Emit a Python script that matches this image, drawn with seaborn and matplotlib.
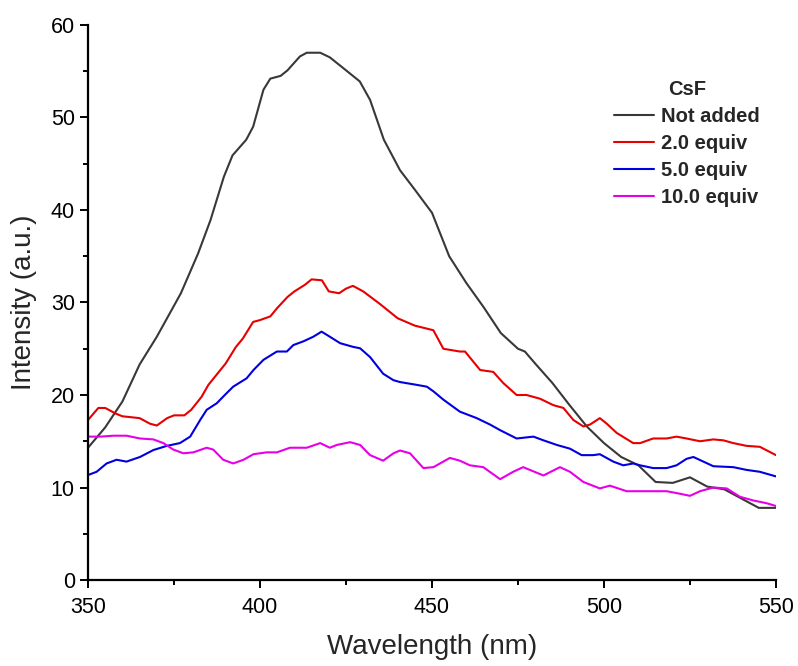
import numpy as np
import matplotlib
matplotlib.use('Agg')
import matplotlib.pyplot as plt
import pandas as pd
import seaborn as sns
from matplotlib.ticker import MultipleLocator

# series
series_names = ['Not added', '2.0 equiv', '5.0 equiv', '10.0 equiv']
series_colors = ['#383838', '#e60000', '#0000e0', '#e600e6']

wl_not_added = [350, 355, 360, 365, 370, 377, 382, 385.6, 389.5, 392, 396, 398, 401, 403, 406, 408,
                411.6, 413.6, 417.5, 420.3, 425, 429, 432, 436, 440.7, 445, 450, 455, 460, 465, 470,
                475, 477, 480, 485, 490, 495, 500, 505, 510, 515, 520, 525, 530, 535, 540, 545, 550]
int_not_added = [14.3, 16.5, 19.3, 23.3, 26.3, 31.0, 35.3, 38.9, 43.6, 45.9, 47.6, 49.0, 53.0, 54.2, 54.5, 55.1,
                 56.6, 57.0, 57.0, 56.5, 55.1, 53.9, 51.9, 47.6, 44.3, 42.2, 39.7, 35.0, 32.1, 29.5, 26.7,
                 25.0, 24.7, 23.4, 21.3, 18.9, 16.6, 14.8, 13.3, 12.4, 10.6, 10.5, 11.1, 10.1, 9.8, 8.8, 7.8, 7.8]

wl_2eq = [350, 353, 355, 358, 360, 365, 368, 370, 373, 375, 378, 380, 383, 385, 390, 393, 395, 398,
          400, 403, 405, 408, 410, 413, 415, 418, 420, 423, 425, 427, 430, 435, 440, 445, 450.4,
          453.3, 458.1, 459.6, 464, 467.8, 470.7, 474.6, 477.5, 481.4, 485.3, 488.2, 491.1, 494,
          495.9, 498.8, 500.8, 503.7, 508.5, 510.5, 514.3, 518.2, 521.1, 524, 527.9, 531.8, 534.7,
          537.6, 541.5, 545.3, 550]
int_2eq = [17.3, 18.6, 18.6, 18.0, 17.7, 17.5, 16.9, 16.7, 17.5, 17.8, 17.8, 18.4, 19.8, 21.1, 23.4, 25.2, 26.1, 27.9,
           28.1, 28.5, 29.4, 30.6, 31.2, 31.9, 32.5, 32.4, 31.2, 31.0, 31.5, 31.8, 31.2, 29.8, 28.3, 27.5, 27.0,
           25.0, 24.7, 24.7, 22.7, 22.5, 21.3, 20.0, 20.0, 19.6, 18.9, 18.6, 17.3, 16.6,
           16.8, 17.5, 16.9, 15.9, 14.8, 14.8, 15.3, 15.3, 15.5, 15.3, 15.0, 15.2, 15.1,
           14.8, 14.5, 14.4, 13.5]

wl_5eq = [350, 352.5, 355.4, 358.3, 361.2, 365.1, 369, 372.9, 376.7, 379.7, 382.6, 384.5, 387.4, 390.3,
          392.2, 396.1, 398.1, 401, 404.9, 407.8, 409.7, 412.6, 415.5, 417.9, 420.3, 423.3, 427.1, 429.1,
          432, 435.8, 438.8, 440.7, 445.5, 448.5, 450.4, 453.3, 458.1, 463, 466.9, 469.8, 474.6, 479.5,
          482.4, 486.3, 490.1, 493.5, 496.9, 498.8, 502.7, 505.6, 508.5, 510.5, 514.3, 518.2, 521.1,
          524, 526, 528.9, 531.8, 537.6, 541.5, 545.3, 550]
int_5eq = [11.35, 11.7, 12.6, 13.0, 12.8, 13.3, 14.05, 14.5, 14.8, 15.5, 17.3, 18.4, 19.1, 20.2,
           20.9, 21.8, 22.7, 23.8, 24.7, 24.7, 25.4, 25.8, 26.3, 26.85, 26.3, 25.6, 25.2, 25.05,
           24.1, 22.3, 21.6, 21.4, 21.1, 20.9, 20.4, 19.5, 18.2, 17.5, 16.8, 16.2, 15.3, 15.5,
           15.1, 14.6, 14.2, 13.5, 13.5, 13.6, 12.8, 12.4, 12.6, 12.4, 12.1, 12.1, 12.4,
           13.1, 13.3, 12.8, 12.3, 12.2, 11.9, 11.7, 11.2]

wl_10eq = [350, 353.5, 357.4, 361.2, 365.1, 369, 371.9, 374.8, 377.7, 380.6, 384.5, 386.4, 389.3, 392.2,
           395.2, 398.1, 401.9, 404.9, 408.7, 411.6, 413.6, 417.5, 420.3, 422.3, 426.2, 429.1, 432, 435.8,
           438.8, 440.7, 443.6, 447.5, 450.4, 455.2, 458.1, 461, 464.9, 469.8, 473.6, 476.5, 482.4, 487.2,
           490.1, 494, 498.8, 501.7, 506.6, 512.4, 518.2, 521.1, 525, 527.9, 531.8, 535.7, 539.5, 543.4,
           547.3, 550]
int_10eq = [15.5, 15.5, 15.6, 15.6, 15.3, 15.2, 14.8, 14.1, 13.7, 13.8, 14.3, 14.1, 13.0, 12.6,
            13.0, 13.6, 13.8, 13.8, 14.3, 14.3, 14.3, 14.8, 14.3, 14.6, 14.9, 14.6, 13.5, 12.9,
            13.7, 14.0, 13.7, 12.1, 12.2, 13.2, 12.9, 12.4, 12.2, 10.9, 11.7, 12.2, 11.3, 12.2,
            11.7, 10.6, 9.9, 10.2, 9.6, 9.6, 9.6, 9.4, 9.1, 9.6, 10.0, 9.9, 9.0, 8.6,
            8.3, 8.0]

frames = []
for name, wl, inten in zip(series_names,
                           [wl_not_added, wl_2eq, wl_5eq, wl_10eq],
                           [int_not_added, int_2eq, int_5eq, int_10eq]):
    frames.append(pd.DataFrame({'Wavelength': wl, 'Intensity': inten, 'CsF': name}))
spectra_df = pd.concat(frames, ignore_index=True)

sns.set_style('ticks')
plt.rcParams['font.family'] = ['Liberation Sans', 'DejaVu Sans']

fig = plt.figure(figsize=(7.98, 6.66), dpi=100)
ax = fig.add_axes([0.1103, 0.1291, 0.8621, 0.8334])

sns.lineplot(data=spectra_df, x='Wavelength', y='Intensity', hue='CsF',
             hue_order=series_names, palette=dict(zip(series_names, series_colors)),
             estimator=None, sort=True, linewidth=1.5, ax=ax)

ax.set_xlim(350, 550)
ax.set_ylim(0, 60)
ax.xaxis.set_major_locator(MultipleLocator(50))
ax.xaxis.set_minor_locator(MultipleLocator(25))
ax.yaxis.set_major_locator(MultipleLocator(10))
ax.yaxis.set_minor_locator(MultipleLocator(5))
ax.tick_params(which='major', length=6, width=1.4, labelsize=15.5, color='black', labelcolor='black')
ax.tick_params(which='minor', length=3.5, width=1.4, color='black')
ax.tick_params(axis='x', pad=6)

sns.despine(ax=ax)
for side in ['left', 'bottom']:
    ax.spines[side].set_linewidth(1.6)
    ax.spines[side].set_color('black')

ax.set_xlabel('Wavelength (nm)', fontsize=20, labelpad=12)
ax.set_ylabel('Intensity (a.u.)', fontsize=20, labelpad=10)

handles, labels = ax.get_legend_handles_labels()
ax.legend(handles, labels, title='CsF', loc='upper left',
          bbox_to_anchor=(0.769, 0.880), bbox_transform=fig.transFigure,
          frameon=False, borderpad=0, borderaxespad=0,
          handlelength=2.0, handletextpad=0.35, labelspacing=0.4,
          prop={'weight': 'bold', 'size': 14.5},
          title_fontproperties={'weight': 'bold', 'size': 14.5})

fig.savefig('out.png', dpi=100)
